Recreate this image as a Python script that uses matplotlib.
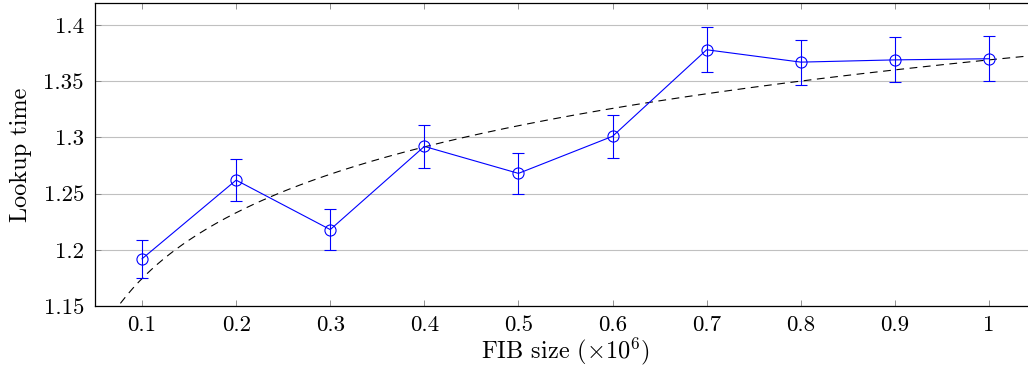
import numpy as np
import matplotlib.pyplot as plt

plt.rcParams['font.family'] = 'serif'
plt.rcParams['font.serif'] = ['cmr10']
plt.rcParams['mathtext.fontset'] = 'cm'
plt.rcParams['axes.unicode_minus'] = False

fib_size = [0.1, 0.2, 0.3, 0.4, 0.5, 0.6, 0.7, 0.8, 0.9, 1.0]
lookup_time = [1.192, 1.262, 1.218, 1.292, 1.268, 1.301, 1.378, 1.367, 1.369, 1.370]
lookup_err = [0.017, 0.019, 0.018, 0.019, 0.018, 0.019, 0.020, 0.020, 0.020, 0.020]

# logarithmic fit  a + b*ln(x)
fit_a = 1.369
fit_b = 0.0845

y_ticks = [1.15, 1.2, 1.25, 1.3, 1.35, 1.4]
y_labels = ["1.15", "1.2", "1.25", "1.3", "1.35", "1.4"]
x_labels = ["0.1", "0.2", "0.3", "0.4", "0.5", "0.6", "0.7", "0.8", "0.9", "1"]

fig = plt.figure(figsize=(10.28, 3.72), dpi=100)
ax = fig.add_axes([0.0924, 0.1774, 0.9154, 0.8145])

xs = np.linspace(0.077, 1.06, 300)
ax.plot(xs, fit_a + fit_b * np.log(xs), color='black', ls=(0, (7, 5)), lw=0.8, zorder=2)

ax.errorbar(fib_size, lookup_time, yerr=lookup_err, color='blue', lw=0.8,
            marker='o', markersize=8, markerfacecolor='none', markeredgewidth=0.8,
            ecolor='blue', elinewidth=0.8, capsize=4, capthick=0.8, zorder=3)

ax.set_xlim(0.05, 1.05)
ax.set_ylim(1.15, 1.4196)
ax.set_xticks(fib_size)
ax.set_xticklabels(x_labels)
ax.set_yticks(y_ticks)
ax.set_yticklabels(y_labels)
ax.yaxis.grid(True, color='#c0c0c0', lw=0.8)
ax.set_axisbelow(True)
ax.tick_params(direction='in', top=True, right=True, labelsize=16.5, length=4,
               color='#808080', width=0.6)
ax.tick_params(axis='y', pad=8)
ax.tick_params(axis='x', pad=7)
for s in ax.spines.values():
    s.set_linewidth(0.9)

ax.set_xlabel(r'FIB size $(\times 10^6)$', fontsize=17.5, labelpad=0)
ax.set_ylabel('Lookup time', fontsize=17.5, labelpad=8)

fig.savefig('out.png', dpi=100)
